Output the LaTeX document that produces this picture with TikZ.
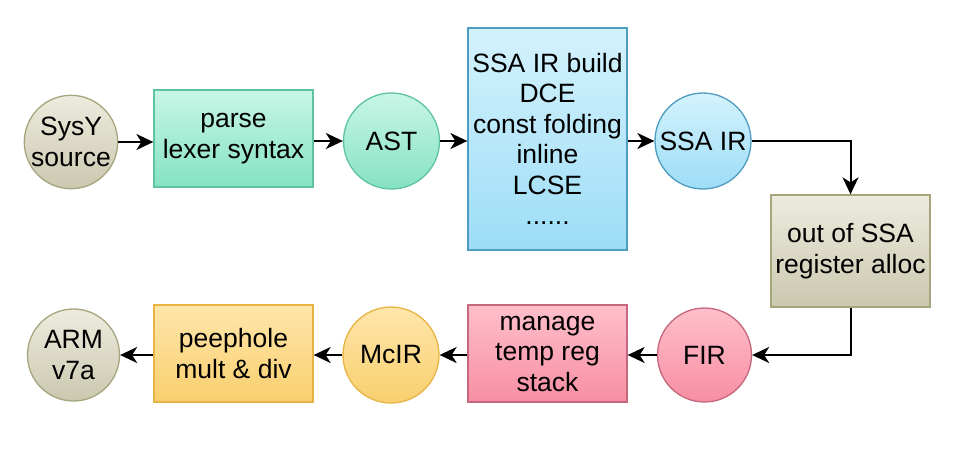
\documentclass[tikz,border=0pt]{standalone}
\usepackage{fontspec}
\setmainfont{Liberation Sans}
\usetikzlibrary{arrows.meta}
\begin{document}
\begin{tikzpicture}[x=1pt,y=-1pt,
  base/.style={line width=1.3pt, align=center, inner sep=0pt,
    font=\fontsize{26.5}{30.5}\selectfont, text=black},
  circ/.style={base, circle, minimum size=#1},
  rbox/.style={base, rectangle},
  olive/.style={draw=olive, top color=oliveT, bottom color=oliveB},
  mint/.style={draw=mintD, top color=mintT, bottom color=mintB},
  sky/.style={draw=skyD, top color=skyT, bottom color=skyB},
  gold/.style={draw=goldD, top color=goldT, bottom color=goldB},
  pink/.style={draw=pinkD, top color=pinkT, bottom color=pinkB},
  conn/.style={line width=2pt, -{Stealth[length=17pt,width=16pt,inset=5pt]}}
]
\definecolor{olive}{HTML}{A6A57E}
\definecolor{oliveT}{HTML}{EDEBDD}
\definecolor{oliveB}{HTML}{CBC8B0}
\definecolor{mintD}{HTML}{5FC3A3}
\definecolor{mintT}{HTML}{C8F6E6}
\definecolor{mintB}{HTML}{85E2C4}
\definecolor{skyD}{HTML}{4E9CC2}
\definecolor{skyT}{HTML}{D4F2FD}
\definecolor{skyB}{HTML}{9DDDF6}
\definecolor{goldD}{HTML}{E7B445}
\definecolor{goldT}{HTML}{FFE6AA}
\definecolor{goldB}{HTML}{F9CF6E}
\definecolor{pinkD}{HTML}{C5677D}
\definecolor{pinkT}{HTML}{FFBFCB}
\definecolor{pinkB}{HTML}{F78EA3}
\useasboundingbox (0,0) rectangle (960,448);
\fill[white] (0,0) rectangle (960,448);

% top row
\node[circ=92pt, olive] (src) at (71,142) {SysY\\source};
\node[rbox, mint, minimum width=159pt, minimum height=97pt] (parse) at (233.5,138.5) {parse\\lexer syntax};
\node[circ=96pt, mint] (ast) at (391.5,141) {AST};
\node[rbox, sky, minimum width=159pt, minimum height=222pt] (opt) at (547.5,139) {SSA IR build\\DCE\\const folding\\inline\\LCSE\\......};
\node[circ=96pt, sky] (ssa) at (703,141) {SSA IR};
\node[rbox, olive, minimum width=159pt, minimum height=112pt] (out) at (850.5,251) {out of SSA\\register alloc};

% bottom row
\node[circ=92pt, olive] (arm) at (73.5,355) {ARM\\v7a};
\node[rbox, gold, minimum width=159pt, minimum height=97pt] (peep) at (233.5,353.5) {peephole\\mult \& div};
\node[circ=96pt, gold] (mcir) at (391,355) {McIR};
\node[rbox, pink, minimum width=159pt, minimum height=97pt] (mng) at (547.5,353.5) {manage\\temp reg\\stack};
\node[circ=94pt, pink] (fir) at (704.5,355) {FIR};

\draw[conn] (src.east) -- (parse.west |- src.east);
\draw[conn] (parse.east |- ast) -- (ast);
\draw[conn] (ast) -- (opt.west |- ast);
\draw[conn] (opt.east |- ssa) -- (ssa);
\draw[conn] (ssa.east) -| (out.north);
\draw[conn] (out.south) |- (fir.east);
\draw[conn] (fir) -- (mng.east |- fir);
\draw[conn] (mng.west |- mcir) -- (mcir);
\draw[conn] (mcir) -- (peep.east |- mcir);
\draw[conn] (peep.west |- arm) -- (arm);
\end{tikzpicture}
\end{document}
